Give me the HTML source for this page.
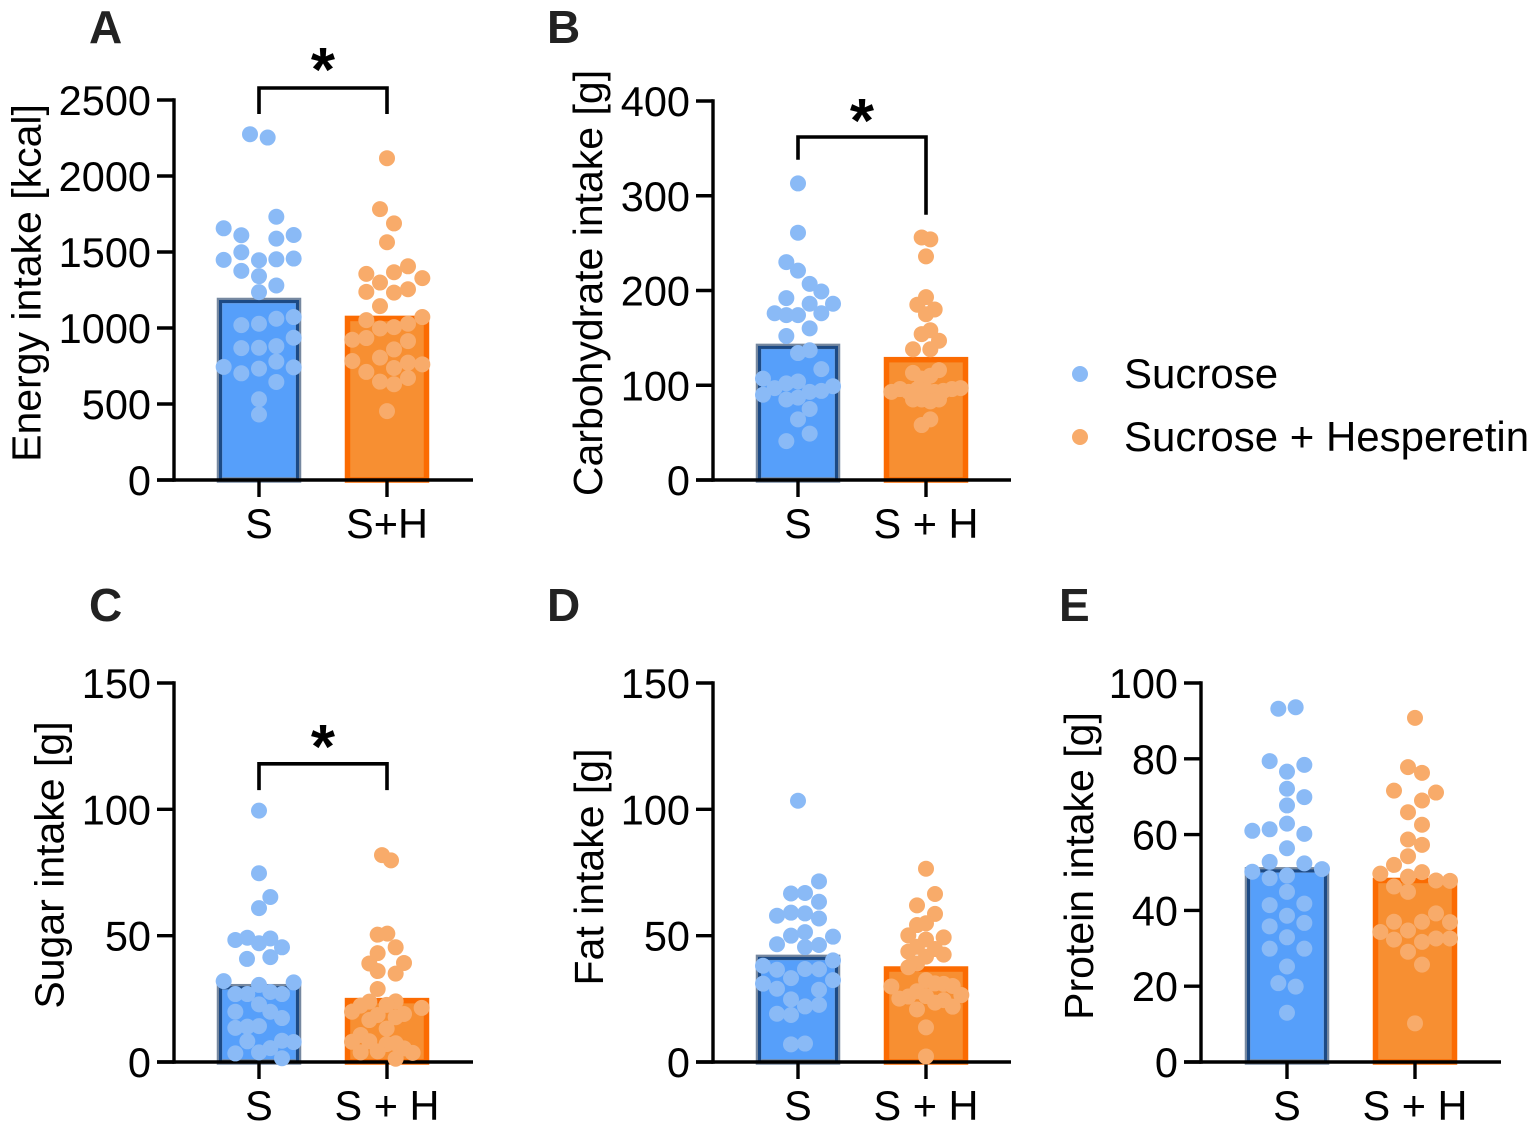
<!DOCTYPE html>
<html lang="en">
<head>
<meta charset="utf-8">
<title>Nutrient intake by group</title>
<style>
  html, body { margin: 0; padding: 0; background: #fff; }
  svg { display: block; font-family: "Liberation Sans", Arial, sans-serif; }
</style>
</head>
<body>
<svg id="figure" width="1535" height="1131" viewBox="0 0 1535 1131" xmlns="http://www.w3.org/2000/svg">
  <rect width="1535" height="1131" fill="#fff"/>
  <g>
    <circle cx="1080" cy="374" r="8" fill="#8abaf6"/>
    <text x="1124" y="388" font-size="42" fill="#000">Sucrose</text>
    <circle cx="1080" cy="437" r="8" fill="#f8ab6a"/>
    <text x="1124" y="451" font-size="42" fill="#000">Sucrose + Hesperetin</text>
  </g>
</svg>
<script>
// ---------- Panel A: energy intake [kcal] ----------
const energySValues = [2275,2253,1656,1732,1610,1588,1612,1498,1448,1446,1452,1457,1376,1341,1280,1236,1072,1061,1028,1019,936,881,870,868,779,744,741,733,702,645,531,431];
const energySJitter = [-27,26,-106,52,-53,52,104,-53,-106,0,52,104,-53,0,52,0,104,52,0,-53,104,52,0,-53,52,-106,104,0,-53,52,0,0];
const energyHValues = [2117,1782,1688,1564,1406,1356,1367,1328,1299,1255,1238,1233,1144,1072,1052,1028,1006,997,934,923,914,859,805,783,772,761,737,711,671,647,630,453];
const energyHJitter = [0,-21,21,0,63,-62,21,106,-21,63,-62,21,-21,106,-62,63,21,-21,-62,-104,63,21,-21,-104,63,106,21,-62,63,-21,21,0];
const energyBars = [1181, 1063];
const energyTicks = [0,500,1000,1500,2000,2500];

// ---------- Panel B: carbohydrate intake [g] ----------
const carbSValues = [313,261,230,221,207,199,192,186,186,176,174,174,176,160,152,137,134,117,107,104,102,97,99,94,93,90,87,85,75,64,49,41];
const carbSJitter = [0,0,-35,0,35,70,-35,35,105,-70,-35,0,70,35,-35,35,0,70,-105,0,-35,-70,105,70,35,-105,0,-35,35,0,35,-35];
const carbHValues = [256,254,236,193,185,180,175,158,154,147,138,138,116,113,110,107,97,96,96,93,94,93,95,96,93,85,85,85,83,64,58];
const carbHJitter = [-13,13,0,0,-26,26,0,13,-13,39,-39,13,39,-39,13,-13,104,78,-78,-104,52,26,0,-26,-52,-39,39,-13,13,13,-13];
const carbBars = [141, 127];
const carbTicks = [0,100,200,300,400];

// ---------- Panel C: sugar intake [g] ----------
const sugarSValues = [99.5,74.7,65.3,60.9,48.3,49.2,47,48.9,45.4,40.8,41.5,32,31.5,30.5,27.7,26.9,26.9,26.9,22.8,19.9,19.9,17.4,13.5,14,14.2,8.2,8.4,7.9,5.5,3.8,3.4,1.5];
const sugarSJitter = [0,0,34,0,-71,-35,0,34,69,-36,34,-106,104,0,34,-71,-35,69,0,34,-71,69,-71,-35,0,-35,69,104,34,0,-71,69];
const sugarHValues = [81.9,79.8,50.4,50.8,45.4,43.1,39,39.2,36,35,28.9,23.9,22.3,24,22.6,19.9,21.4,19,17.7,18.6,16.6,13.2,10.7,8,8.2,7.1,7.4,5.4,3.8,4.2,3.6,1.3];
const sugarHJitter = [-15,12,-28,1,26,-28,-53,51,-28,26,-28,-53,-79,26,-1,-105,104,51,26,-28,-53,-1,-79,-105,-53,-1,26,51,-79,-28,77,26];
const sugarBars = [29.8, 24.3];
const sugarTicks = [0,50,100,150];

// ---------- Panel D: fat intake [g] ----------
const fatSValues = [103.4,71.5,66.7,66.9,63.4,57.9,59.1,58.8,56.8,51.4,50,49.6,46.6,45.5,46.3,40.2,38.1,36.5,36.8,36.7,33.2,32.4,31,29,28.6,24.8,22.6,22,19.1,18.6,7,7.3];
const fatSJitter = [0,63,-21,21,63,-63,-21,21,63,21,-21,105,-63,21,63,105,-105,-63,21,63,-21,105,-105,-63,63,-21,63,21,-63,-21,-21,21];
const fatHValues = [76.5,66.5,62,58.6,54.9,54.2,50.1,49.3,48.5,45.6,44.7,43.7,42.5,41.7,39,37.5,32.4,31.1,30.9,30.1,29.9,28,26.5,25.9,26.1,25.1,24.5,23.5,21.9,20.8,13.7,2.2];
const fatHJitter = [0,27,-27,27,0,-27,-53,53,0,-27,27,-53,53,0,-27,-53,0,27,53,80,-104,-27,106,-53,0,-80,53,27,80,-27,0,0];
const fatBars = [41.4, 36.8];
const fatTicks = [0,50,100,150];

// ---------- Panel E: protein intake [g] ----------
const proteinSValues = [93.2,93.6,79.4,78.4,76.6,72.1,69.9,67.7,62.9,61.4,61,60.2,56.4,52.8,52.4,50.2,50.9,48.5,49.2,44.9,41.4,41.8,38.6,36.7,35.8,32.9,29.9,29.9,25.2,20.8,19.9,13];
const proteinSJitter = [-26,26,-52,52,0,0,52,0,0,-52,-104,52,0,-52,52,-104,105,-52,0,0,-52,52,0,52,-52,0,-52,52,0,-26,26,0];
const proteinHValues = [90.8,77.8,76.3,71.6,71.1,69,65.9,62.6,58.7,57.3,54.3,52,49.7,50.1,48.9,47.9,47.8,46.3,44.9,39.2,37,37,36.9,34.7,34.3,32.3,32.6,32.6,31.7,29.1,25.7,10.2];
const proteinHJitter = [0,-21,21,-63,63,21,-21,21,-21,21,-21,-63,-104,21,-21,63,105,-63,-21,63,-63,21,105,-21,-104,-63,63,105,21,-21,21,0];
const proteinBars = [50.7, 47.9];
const proteinTicks = [0,20,40,60,80,100];

// Swarm offsets are stored in 1/384ths of the spacing between the two categories.
const JITTER_PER_CATEGORY = 384;
const SVG_NS = 'http://www.w3.org/2000/svg';
const figure = document.getElementById('figure');

const panels = [
  { id:'a', letter:'A', letterX:89, letterY:43, title:'Energy intake [kcal]', titleX:40.5, titleY:283,
    left:174, right:473, zero:480, top:100, max:2500, cat0:259,
    ticks:energyTicks, bars:energyBars, sValues:energySValues, sJitter:energySJitter, hValues:energyHValues, hJitter:energyHJitter,
    labels:['S','S+H'], labelY:538, bracket:{top:2579,leftEnd:2408,rightEnd:2408}, starX:323, starY:91 },
  { id:'b', letter:'B', letterX:547, letterY:43, title:'Carbohydrate intake [g]', titleX:602, titleY:283,
    left:713, right:1011, zero:480, top:101, max:400, cat0:798,
    ticks:carbTicks, bars:carbBars, sValues:carbSValues, sJitter:carbSJitter, hValues:carbHValues, hJitter:carbHJitter,
    labels:['S','S + H'], labelY:538, bracket:{top:362,leftEnd:338,rightEnd:280}, starX:862, starY:142 },
  { id:'c', letter:'C', letterX:89, letterY:621, title:'Sugar intake [g]', titleX:63.5, titleY:865,
    left:174, right:473, zero:1062, top:683, max:150, cat0:259,
    ticks:sugarTicks, bars:sugarBars, sValues:sugarSValues, sJitter:sugarSJitter, hValues:sugarHValues, hJitter:sugarHJitter,
    labels:['S','S + H'], labelY:1120, bracket:{top:118,leftEnd:107.6,rightEnd:107.6}, starX:323, starY:768 },
  { id:'d', letter:'D', letterX:547, letterY:621, title:'Fat intake [g]', titleX:603, titleY:867,
    left:713, right:1011, zero:1062, top:683, max:150, cat0:798,
    ticks:fatTicks, bars:fatBars, sValues:fatSValues, sJitter:fatSJitter, hValues:fatHValues, hJitter:fatHJitter,
    labels:['S','S + H'], labelY:1120 },
  { id:'e', letter:'E', letterX:1059, letterY:621, title:'Protein intake [g]', titleX:1093, titleY:866,
    left:1201, right:1501, zero:1062, top:683, max:100, cat0:1287,
    ticks:proteinTicks, bars:proteinBars, sValues:proteinSValues, sJitter:proteinSJitter, hValues:proteinHValues, hJitter:proteinHJitter,
    labels:['S','S + H'], labelY:1120 }
];

const CATEGORY_GAP = 128;
const BAR_WIDTH = 79;

function svgEl(tag, attrs, parent) {
  const node = document.createElementNS(SVG_NS, tag);
  for (const key in attrs) node.setAttribute(key, attrs[key]);
  parent.appendChild(node);
  return node;
}
function yScale(p, value) { return p.zero - (value / p.max) * (p.zero - p.top); }
function xScale(p, category) { return p.cat0 + category * CATEGORY_GAP; }

function drawBar(p, g, category, value) {
  const cx = xScale(p, category);
  const y = yScale(p, value);
  const h = p.zero - y;
  if (category === 0) {
    const halo = svgEl('rect', {x:cx-BAR_WIDTH/2, y:y, width:BAR_WIDTH, height:h, fill:'#569ffa', stroke:'#7688a0', 'stroke-width':5.5}, g);
    
    
    const inner = svgEl('rect', {x:cx-BAR_WIDTH/2+1, y:y+1, width:BAR_WIDTH-2, height:h-1, fill:'none', stroke:'#1c4a85', 'stroke-width':3}, g);
    
    
  } else {
    const bar = svgEl('rect', {x:cx-BAR_WIDTH/2, y:y, width:BAR_WIDTH, height:h, fill:'#f78f32', stroke:'#fb6b02', 'stroke-width':5.5}, g);
    
    
  }
}

function drawDots(p, g, category, values, jitter, color) {
  values.forEach(function (value, i) {
    const dot = svgEl('circle', {cx:xScale(p, category + jitter[i] / JITTER_PER_CATEGORY), cy:yScale(p, value), r:8, fill:color}, g);
    
    
  });
}

panels.forEach(function (p) {
  const g = svgEl('g', {}, figure);
  
  

  const letter = svgEl('text', {x:p.letterX, y:p.letterY, 'font-size':46, 'font-weight':'bold', fill:'#222'}, g);
  letter.textContent = p.letter;
  
  

  const title = svgEl('text', {x:p.titleX, y:p.titleY, 'font-size':41, 'text-anchor':'middle', fill:'#000', transform:'rotate(-90 ' + p.titleX + ' ' + p.titleY + ')'}, g);
  title.textContent = p.title;
  
  

  p.bars.forEach(function (value, category) { drawBar(p, g, category, value); });

  const yAxis = svgEl('line', {x1:p.left, x2:p.left, y1:yScale(p, p.max) - 1.7, y2:p.zero + 1.7, stroke:'#000', 'stroke-width':3.4}, g);
  
  
  const xAxis = svgEl('line', {x1:p.left - 17, x2:p.right, y1:p.zero, y2:p.zero, stroke:'#000', 'stroke-width':3.4}, g);
  
  

  p.ticks.forEach(function (value) {
    const y = yScale(p, value);
    const tick = svgEl('line', {x1:p.left - 17, x2:p.left, y1:y, y2:y, stroke:'#000', 'stroke-width':3.4}, g);
    
    
    const label = svgEl('text', {x:p.left - 23, y:y + 15, 'font-size':41.5, 'text-anchor':'end', fill:'#000'}, g);
    label.textContent = String(value);
    
    
  });

  p.labels.forEach(function (text, category) {
    const x = xScale(p, category);
    const tick = svgEl('line', {x1:x, x2:x, y1:p.zero, y2:p.zero + 17, stroke:'#000', 'stroke-width':3.4}, g);
    
    
    const label = svgEl('text', {x:x, y:p.labelY, 'font-size':41.5, 'text-anchor':'middle', fill:'#000'}, g);
    label.textContent = text;
    
    
  });

  if (p.bracket) {
    const x0 = xScale(p, 0), x1 = xScale(p, 1);
    const d = 'M' + x0 + ' ' + yScale(p, p.bracket.leftEnd) + 'V' + yScale(p, p.bracket.top) + 'H' + x1 + 'V' + yScale(p, p.bracket.rightEnd);
    const bracket = svgEl('path', {d:d, fill:'none', stroke:'#000', 'stroke-width':3.6}, g);
    
    
    const star = svgEl('text', {x:p.starX, y:p.starY, 'font-size':62, 'font-weight':'bold', 'text-anchor':'middle', fill:'#000'}, g);
    star.textContent = '*';
    
    
  }

  drawDots(p, g, 0, p.sValues, p.sJitter, '#8abaf6');
  drawDots(p, g, 1, p.hValues, p.hJitter, '#f8ab6a');
});
</script>
</body>
</html>
